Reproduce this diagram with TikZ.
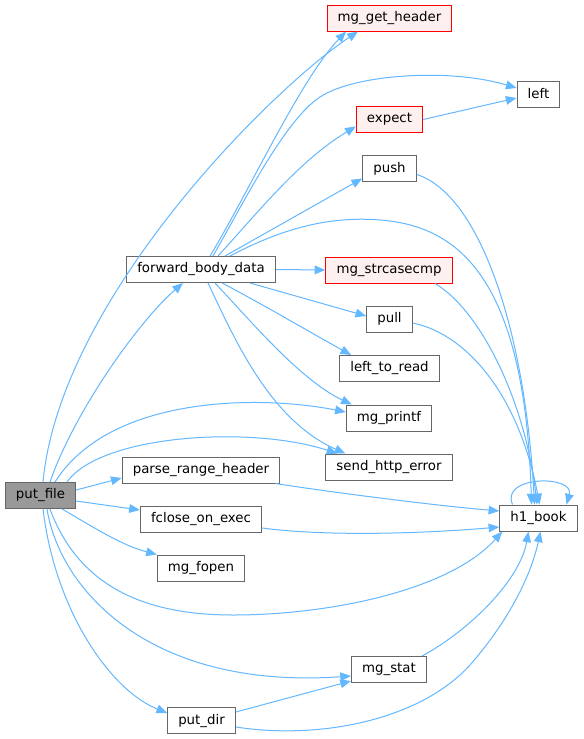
\documentclass[tikz,border=0pt]{standalone}
\usepackage{fontspec}
\setmainfont{DejaVu Sans}
\usetikzlibrary{arrows.meta,calc}
\definecolor{callblue}{HTML}{63B8FF}
\definecolor{boxline}{HTML}{666666}
\definecolor{undoc}{HTML}{FF0000}
\definecolor{undocbg}{HTML}{FFF0F0}
\definecolor{curfill}{HTML}{999999}
\tikzset{
  fn/.style={draw=boxline,line width=0.75pt,fill=white,inner xsep=8pt,inner ysep=0pt,
             minimum height=19.5pt,font=\fontsize{10pt}{12pt}\selectfont},
  fnred/.style={fn,draw=undoc,fill=undocbg},
  fncur/.style={fn,fill=curfill},
  call/.style={-{Triangle[length=8pt,width=6.5pt]},draw=callblue,line width=0.75pt},
}

\begin{document}
\begin{tikzpicture}[x=0.75pt,y=-0.75pt]
\useasboundingbox[fill=white] (0,0) rectangle (583,739);
% functions
\node[fncur] (pf) at (40.5,495.5) {put\_file};
\node[fn] (fbd) at (201,269.5) {forward\_body\_data};
\node[fnred] (gethdr) at (389.5,18) {mg\_get\_header};
\node[fn] (lft) at (538.5,94) {left};
\node[fnred] (expect) at (389.5,119.5) {expect};
\node[fn] (push) at (389.5,168.5) {push};
\node[fnred] (strcmp) at (389,270) {mg\_strcasecmp};
\node[fn] (pull) at (389.5,319) {pull};
\node[fn] (ltr) at (389.5,368.5) {left\_to\_read};
\node[fn] (printf) at (389,418) {mg\_printf};
\node[fn] (herr) at (389,467) {send\_http\_error};
\node[fn] (prh) at (201,470) {parse\_range\_header};
\node[fn] (book) at (538.5,518) {h1\_book};
\node[fn] (fclose) at (201,519) {fclose\_on\_exec};
\node[fn] (fopen) at (201,568) {mg\_fopen};
\node[fn] (stat) at (389,669.5) {mg\_stat};
\node[fn] (putdir) at (201.5,720.5) {put\_dir};
% calls of put_file
\draw[call] ($(pf.north)+(2.5,0)$) .. controls (60,300) and (270,90) .. ($(gethdr.south)+(-31.5,0)$);
\draw[call] ($(pf.north)+(9.5,0)$) .. controls (75,410) and (140,320) .. ($(fbd.south)+(-18,0)$);
\draw[call] ($(pf.north)+(14.5,0)$) .. controls (110,395) and (260,395) .. ($(printf.west)+(0,-6)$);
\draw[call] ($(pf.north)+(26.5,0)$) .. controls (100,435) and (250,425) .. ($(herr.north west)+(12,0)$);
\draw[call] ($(pf.east)+(0,-5.5)$) -- ($(prh.west)+(0,8)$);
\draw[call] ($(pf.east)+(0,5.5)$) -- ($(fclose.west)+(0,-9)$);
\draw[call] ($(pf.south)+(21.5,0)$) .. controls (85,522) and (120,545) .. (fopen.north west);
\draw[call] ($(pf.south)+(9.5,0)$) .. controls (80,590) and (150,615) .. (233,615)
            .. controls (330,615) and (450,590) .. ($(book.south west)+(3,0)$);
\draw[call] ($(pf.south)+(6.5,0)$) .. controls (60,590) and (150,690) .. ($(stat.west)+(0,6.5)$);
\draw[call] ($(pf.south)+(2.5,0)$) .. controls (55,610) and (110,690) .. ($(putdir.west)+(0,-7.5)$);
% calls of forward_body_data
\draw[call] ($(fbd.north)+(9,0)$) .. controls (250,190) and (300,80) .. ($(gethdr.south)+(-43.5,0)$);
\draw[call] ($(fbd.north)+(12,0)$) .. controls (245,200) and (285,120) .. (320,97)
            .. controls (355,74) and (450,68) .. ($(lft.west)+(0,-6)$);
\draw[call] ($(fbd.north)+(17,0)$) .. controls (260,210) and (300,160) .. ($(expect.west)+(0,7)$);
\draw[call] ($(fbd.north)+(24,0)$) -- ($(push.west)+(0,10)$);
\draw[call] ($(fbd.north)+(29,0)$) .. controls (270,235) and (320,215) .. (380,220)
            .. controls (460,226) and (525,280) .. ($(book.north)+(-7,0)$);
\draw[call] (fbd.east) -- (strcmp.west);
\draw[call] ($(fbd.south)+(49,0)$) -- ($(pull.west)+(0,-3)$);
\draw[call] ($(fbd.south)+(21,0)$) .. controls (255,300) and (315,335) .. ($(ltr.north west)+(12,0)$);
\draw[call] ($(fbd.south)+(14,0)$) .. controls (250,320) and (300,380) .. ($(printf.north west)+(6,0)$);
\draw[call] ($(fbd.south)+(7,0)$) .. controls (235,340) and (270,420) .. ($(herr.north west)+(20,0)$);
% the rest
\draw[call] (expect.east) -- ($(lft.west)+(0,4)$);
\draw[call] ($(push.east)+(0,6)$) .. controls (480,195) and (525,330) .. ($(book.north)+(-4,0)$);
\draw[call] ($(strcmp.south)+(46,0)$) .. controls (480,310) and (525,400) .. ($(book.north)+(-1.5,0)$);
\draw[call] ($(pull.east)+(0,4)$) .. controls (470,335) and (520,400) .. ($(book.north)+(1,0)$);
\draw[call] ($(prh.south east)+(-5,0)$) .. controls (330,492) and (430,505) .. ($(book.west)+(0,-7)$);
\draw[call] ($(fclose.east)+(0,9)$) .. controls (330,537) and (430,533) .. ($(book.west)+(0,9)$);
\draw[call] ($(stat.north east)+(-5,0)$) .. controls (470,630) and (520,580) .. ($(book.south)+(-10,0)$);
\draw[call] ($(putdir.east)+(0,-8.5)$) -- ($(stat.west)+(0,11.5)$);
\draw[call] ($(putdir.east)+(0,6.5)$) .. controls (320,740) and (420,720) .. (470,665)
            .. controls (505,625) and (530,580) .. ($(book.south)+(2,0)$);
\draw[call] ($(book.north)+(-26,0)$) .. controls (500,475) and (575,475) .. ($(book.north)+(28,0)$);
\end{tikzpicture}
\end{document}
